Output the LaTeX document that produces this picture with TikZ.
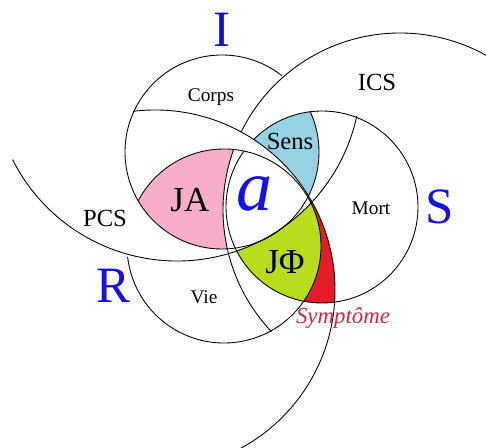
\documentclass[tikz,border=0pt]{standalone}
\usepackage{fontspec}
\setmainfont{Liberation Serif}
\usepackage{xcolor}

\definecolor{japink}{RGB}{248,174,202}
\definecolor{sensblue}{RGB}{150,210,228}
\definecolor{jphigreen}{RGB}{182,222,30}
\definecolor{symred}{RGB}{228,28,40}
\definecolor{ringblue}{RGB}{18,18,232}
\definecolor{symtext}{RGB}{214,40,60}

\begin{document}
\begin{tikzpicture}[x=0.02cm, y=0.02cm,
    ring/.style={draw=black, line width=0.5pt},
    ringname/.style={text=ringblue, font=\fontsize{29}{30}\selectfont},
    fieldname/.style={font=\fontsize{14}{15}\selectfont},
    placename/.style={font=\fontsize{11}{12}\selectfont},
    joyname/.style={font=\fontsize{20}{21}\selectfont}]
  \clip (0,0) rectangle (486,-448);

  % Centres of the three rings and of the three big fields.
  \coordinate (cI) at (222,-152);
  \coordinate (cS) at (322,-207);
  \coordinate (cR) at (224,-246);
  \coordinate (cICS) at (400,-210);
  \coordinate (cPCS) at (177,-77);
  \coordinate (cSy) at (155,-290);

  % JA, in I and R but out of the ICS field.
  \begin{scope}
    \clip (cI) circle [radius=97];
    \clip (cR) circle [radius=97];
    \fill [japink, even odd rule] (-200,200) rectangle (800,-800)
      (cICS) circle [radius=177];
  \end{scope}

  % Sens, in I and S but out of the symptom field.
  \begin{scope}
    \clip (cI) circle [radius=97];
    \clip (cS) circle [radius=96];
    \fill [sensblue, even odd rule] (-200,200) rectangle (800,-800)
      (cSy) circle [radius=180];
  \end{scope}

  % JPhi, in S and R but out of the PCS field.
  \begin{scope}
    \clip (cS) circle [radius=96];
    \clip (cR) circle [radius=97];
    \fill [jphigreen, even odd rule] (-200,200) rectangle (800,-800)
      (cPCS) circle [radius=184];
  \end{scope}

  % Symptom, between R and the symptom field, inside S.
  \begin{scope}
    \clip (cS) circle [radius=96];
    \clip (cSy) circle [radius=180];
    \clip (0,-200) rectangle (486,-448);
    \fill [symred, even odd rule] (-200,200) rectangle (800,-800)
      (cR) circle [radius=97];
  \end{scope}

  % The three rings, broken where they pass under.
  \draw [ring] (cI) ++(52:97) arc [start angle=52, end angle=385, radius=97];
  \draw [ring] (cS) ++(135:96) arc [start angle=135, end angle=-215.7, radius=96];
  \draw [ring] (cR) ++(152:97) arc [start angle=152, end angle=-173.5, radius=97];

  % The big fields.
  \draw [ring] (cICS) ++(154:177) arc [start angle=154, end angle=50, radius=177];
  \draw [ring] (cICS) ++(160.2:177) arc [start angle=160.2, end angle=223.4, radius=177];
  \draw [ring] (cPCS) ++(206.7:184) arc [start angle=206.7, end angle=347.8, radius=184];
  \draw [ring] (cSy) ++(97:180) arc [start angle=97, end angle=-70, radius=180];

  % Names of the rings.
  \node [ringname] (I) at (222,-30) {I};
  \node [ringname] (S) at (440,-207) {S};
  \node [ringname] (R) at (113,-286) {R};

  % Fields and places.
  \node [fieldname] (ics) at (377,-82) {ICS};
  \node [fieldname] (pcs) at (105,-218) {PCS};
  \node [placename] (corps) at (211,-97) {Corps};
  \node [placename] (mort) at (371,-208) {Mort};
  \node [placename] (vie) at (204,-297) {Vie};

  % Jouissances, sense, object a and the symptom.
  \node [joyname] (ja) at (190,-200) {JA};
  \node [joyname] (jphi) at (285,-262) {JΦ};
  \node [font=\fontsize{14}{15}\selectfont] (sens) at (290,-141) {Sens};
  \node [text=ringblue, font=\itshape\fontsize{41}{42}\selectfont] (a) at (255,-194) {a};
  \node [text=symtext, font=\itshape\fontsize{13}{14}\selectfont] (symp) at (343,-318) {Symptôme};
\end{tikzpicture}
\end{document}
